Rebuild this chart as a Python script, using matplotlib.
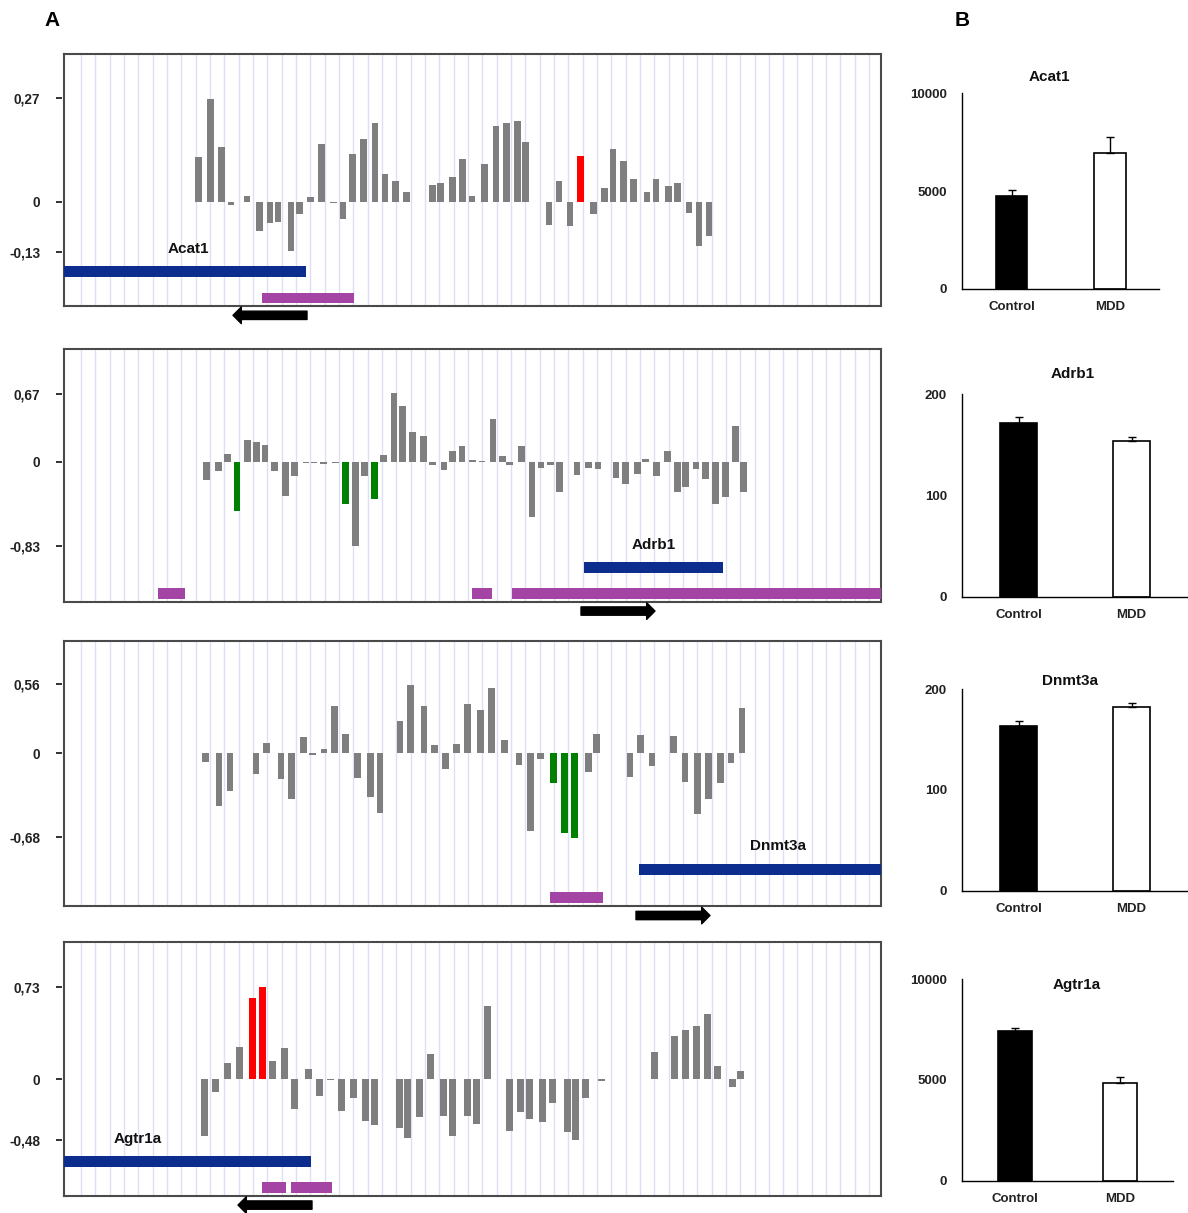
import matplotlib.pyplot as plt
from matplotlib import transforms

plt.rcParams['font.family'] = ['Liberation Sans', 'DejaVu Sans']
plt.rcParams['font.weight'] = 'bold'

W, H = 1188, 1213  # figure size in px

# ---------------- A : methylation difference per CpG ----------------
# positions along the region (arbitrary units), values = methylation difference
acat1_pos = [134.7, 146.7, 157.5, 167, 183, 195.7, 206, 214, 227.2, 235.5, 246.3, 257.3,
             269.3, 279.2, 288.5, 299.5, 311, 321, 331.3, 342.7, 368.5, 376.3, 388.7, 398.7,
             408, 420.7, 432, 442.7, 453.3, 461.7, 485, 495, 506, 516.7, 529.2, 540.3,
             549, 559.3, 569.8, 583, 592, 604.3, 613.3, 625, 635, 645]
acat1_val = [0.115, 0.267, 0.143, -0.009, 0.016, -0.076, -0.055, -0.052, -0.129, -0.033,
             0.013, 0.151, -0.004, -0.045, 0.124, 0.164, 0.205, 0.071, 0.053, 0.025, 0.043,
             0.049, 0.063, 0.110, 0.016, 0.097, 0.198, 0.205, 0.209, 0.156, -0.061, 0.053,
             -0.064, 0.120, -0.033, 0.035, 0.136, 0.106, 0.059, 0.025, 0.059, 0.041, 0.050,
             -0.030, -0.114, -0.089]
acat1_red = [33]
acat1_green = []

adrb1_pos = [142.5, 154.3, 163.3, 173.2, 183.7, 192.3, 201.2, 210.7, 221.5, 230.7, 241.8,
             250, 259.7, 271.5, 281.3, 291.3, 300.5, 310.8, 319.7, 330, 338.5, 348.5, 359.8,
             368.3, 380, 388.3, 398.2, 408.8, 418.2, 429, 438.7, 445.3, 457.5, 468, 477,
             486.3, 495.3, 513, 524.7, 534, 542, 552, 561.5, 573.7, 581.3, 592.7, 603.5,
             613.2, 621.5, 632, 641.7, 651.8, 661.8, 671.5, 679.8]
adrb1_val = [-0.184, -0.089, 0.076, -0.490, 0.217, 0.194, 0.167, -0.089, -0.335, -0.138,
             -0.010, -0.010, -0.020, -0.010, -0.417, -0.831, -0.138, -0.371, 0.062, 0.673,
             0.545, 0.296, 0.249, -0.030, -0.079, 0.108, 0.155, 0.020, 0.005, 0.424, 0.056,
             -0.033, 0.155, -0.549, -0.062, -0.036, -0.299, -0.128, -0.066, -0.076, -0.005,
             -0.158, -0.220, -0.125, 0.030, -0.138, 0.108, -0.299, -0.249, -0.076, -0.170,
             -0.421, -0.348, 0.355, -0.299]
adrb1_red = []
adrb1_green = [3, 14, 17]

dnmt3a_pos = [141.8, 155, 166, 192, 202.7, 216.8, 227.7, 239.7, 248.7, 260, 270.7, 281.3,
              293.3, 306.7, 316, 336, 346.7, 360.2, 370.5, 381.8, 392.7, 403.7, 416.3,
              427.3, 440.5, 455, 466.5, 476.7, 489.3, 500.7, 510.3, 524.3, 532.8, 566,
              576.5, 588, 599.7, 609.2, 621, 633.5, 644.5, 656.3, 667, 678]
dnmt3a_val = [-0.067, -0.423, -0.308, -0.164, 0.087, -0.211, -0.367, 0.135, -0.012, 0.038,
              0.386, 0.156, -0.202, -0.356, -0.483, 0.262, 0.551, 0.386, 0.067, -0.124,
              0.075, 0.397, 0.348, 0.532, 0.105, -0.095, -0.626, -0.049, -0.237, -0.645,
              -0.683, -0.151, 0.154, -0.192, 0.146, -0.103, 0.004, 0.143, -0.232, -0.491,
              -0.367, -0.237, -0.075, 0.364]
dnmt3a_red = []
dnmt3a_green = [28, 29, 30]

agtr1a_pos = [140.7, 152, 163.3, 175.2, 188.5, 198, 208.8, 220.5, 230.8, 244, 255.7, 266.5,
              277.8, 289.5, 301.8, 310.2, 335.2, 344, 355.5, 366.3, 379.7, 389, 403.5, 413,
              423.7, 445.7, 456.3, 465, 478.3, 488, 503.3, 511.5, 521.3, 537.8, 590.7, 610.2,
              621.5, 632.3, 643.2, 653.5, 668.3, 676.5]
agtr1a_val = [-0.455, -0.101, 0.125, 0.256, 0.645, 0.730, 0.143, 0.246, -0.236, 0.077,
              -0.133, -0.008, -0.254, -0.151, -0.331, -0.367, -0.387, -0.471, -0.302, 0.198,
              -0.291, -0.452, -0.291, -0.357, 0.577, -0.415, -0.262, -0.317, -0.339, -0.188,
              -0.423, -0.482, -0.148, -0.012, 0.217, 0.339, 0.387, 0.418, 0.518, 0.103,
              -0.063, 0.063]
agtr1a_red = [4, 5]
agtr1a_green = []

# gene bodies, CpG islands, strand, y tick values / labels
genes = ['Acat1', 'Adrb1', 'Dnmt3a', 'Agtr1a']
gene_span = [(0, 242), (520, 659), (575, 817), (0, 247)]
gene_label_x = [124, 590, 714, 74]
islands = [[(198, 290)], [(94, 121), (408, 428), (448, 817)], [(486, 539)],
           [(198, 222), (227, 268)]]
strand = [-1, 1, 1, -1]
yticks = [[0.27, 0, -0.13], [0.67, 0, -0.83], [0.56, 0, -0.68], [0.73, 0, -0.48]]
yticklabels = [['0,27', '0', '-0,13'], ['0,67', '0', '-0,83'],
               ['0,56', '0', '-0,68'], ['0,73', '0', '-0,48']]
ylims = [(-0.271, 0.384), (-1.379, 1.110), (-1.234, 0.912), (-0.926, 1.085)]

# ---------------- B : expression Control vs MDD ----------------
groups = ['Control', 'MDD']
acat1_expr, acat1_err = [4770, 6950], [290, 800]
adrb1_expr, adrb1_err = [171.4, 153.5], [6.5, 4.6]
dnmt3a_expr, dnmt3a_err = [163.3, 182.1], [5.5, 4.6]
agtr1a_expr, agtr1a_err = [7420, 4850], [165, 300]
expr_max = [10000, 200, 200, 10000]

# layout (px boxes)
a_boxes = [(54, 306), (349, 601.7), (640.7, 905.7), (942.3, 1195.7)]
b_boxes = [(962.3, 1159.3, 93.3, 289), (962.3, 1188, 394.3, 596.7),
           (962.3, 1188, 689.3, 890.7), (962.3, 1172.7, 979.3, 1180.7)]
title_xy = [(0.44, 1.082), (0.49, 1.10), (0.477, 1.043), (0.544, 0.972)]

BLUE = '#0c2c8e'
PURPLE = '#a445a6'
GREY = '#7f7f7f'


def px_axes(fig, x0, x1, top, bottom):
    return fig.add_axes([x0 / W, 1 - bottom / H, (x1 - x0) / W, (bottom - top) / H])


fig = plt.figure(figsize=(W / 100, H / 100), dpi=100)

a_data = [(acat1_pos, acat1_val, acat1_red, acat1_green),
          (adrb1_pos, adrb1_val, adrb1_red, adrb1_green),
          (dnmt3a_pos, dnmt3a_val, dnmt3a_red, dnmt3a_green),
          (agtr1a_pos, agtr1a_val, agtr1a_red, agtr1a_green)]

for i, (pos, val, red, green) in enumerate(a_data):
    top, bottom = a_boxes[i]
    ax = px_axes(fig, 64, 881, top, bottom)
    ax.set_xlim(0, 817)
    ax.set_ylim(*ylims[i])
    trans = transforms.blended_transform_factory(ax.transData, ax.transAxes)

    # light vertical grid
    gx = [17 + 14.33 * k for k in range(56)]
    ax.vlines(gx, 0, 1, transform=trans, color='#dedef5', lw=1, zorder=0)

    colors = [GREY] * len(pos)
    for k in red:
        colors[k] = '#ff0000'
    for k in green:
        colors[k] = '#008000'
    ax.bar(pos, val, width=6.6 if i < 3 else 7.0, color=colors, zorder=2)

    # gene body + label
    g0, g1 = gene_span[i]
    ax.fill_between([g0, g1], 0.115, 0.157, transform=trans, color=BLUE, lw=0, zorder=3)
    ax.text(gene_label_x[i], 0.225, genes[i], transform=trans, ha='center', va='center',
            fontsize=11, fontweight='bold', color='#111111')
    # CpG islands
    for s0, s1 in islands[i]:
        ax.fill_between([s0, s1], 0.011, 0.053, transform=trans, color=PURPLE, lw=0, zorder=3)
    # transcription direction arrow
    if strand[i] > 0:
        tail, tip = g0 - 3, g0 + 71
    else:
        tail, tip = g1 + 1, g1 - 73
    ax.annotate('', xy=(tip, -0.037), xytext=(tail, -0.037), xycoords=trans,
                textcoords=trans, annotation_clip=False,
                arrowprops=dict(arrowstyle='simple,head_length=0.6,head_width=1.2,tail_width=0.6',
                                color='black', shrinkA=0, shrinkB=0, mutation_scale=10))

    ax.set_xticks([])
    ax.set_yticks(yticks[i])
    ax.set_yticklabels(yticklabels[i])
    ax.tick_params(axis='y', length=0, pad=17, labelsize=9.8, labelcolor='#222222')
    ax.plot([-0.0065] * 3, yticks[i], ls='none', marker='_', ms=4, mew=1.3, color='#222222',
            transform=transforms.blended_transform_factory(ax.transAxes, ax.transData),
            clip_on=False)
    for sp in ax.spines.values():
        sp.set_color('#4a4a4a')
        sp.set_linewidth(1.5)

b_data = [(acat1_expr, acat1_err), (adrb1_expr, adrb1_err),
          (dnmt3a_expr, dnmt3a_err), (agtr1a_expr, agtr1a_err)]

for i, (vals, errs) in enumerate(b_data):
    x0, x1, top, bottom = b_boxes[i]
    ax = px_axes(fig, x0, x1, top, bottom)
    bw = 0.32 if i == 0 else 0.33
    ax.bar([0, 1], vals, width=bw, color=['black', 'white'], edgecolor='black', lw=1.2,
           yerr=[[0, 0], errs], capsize=3,
           error_kw=dict(ecolor='black', elinewidth=1, capthick=1), zorder=2)
    ax.set_xlim(-0.5, 1.5)
    ax.set_ylim(0, expr_max[i])
    ax.set_yticks([0, expr_max[i] / 2, expr_max[i]])
    ax.set_yticklabels(['0', str(expr_max[i] // 2), str(expr_max[i])])
    ax.set_xticks([0, 1])
    ax.set_xticklabels(groups)
    ax.tick_params(length=0, labelsize=9.5, labelcolor='#222222')
    ax.tick_params(axis='y', pad=11)
    ax.tick_params(axis='x', pad=9)
    for sp in ['top', 'right']:
        ax.spines[sp].set_visible(False)
    for sp in ['left', 'bottom']:
        ax.spines[sp].set_linewidth(1.0)
    ax.text(title_xy[i][0], title_xy[i][1], genes[i], transform=ax.transAxes,
            ha='center', va='center', fontsize=11, fontweight='bold', color='#111111')

fig.text(52 / W, 1 - 20 / H, 'A', ha='center', va='center', fontsize=15, fontweight='bold')
fig.text(962 / W, 1 - 20 / H, 'B', ha='center', va='center', fontsize=15, fontweight='bold')

fig.savefig('out.png', dpi=100)
